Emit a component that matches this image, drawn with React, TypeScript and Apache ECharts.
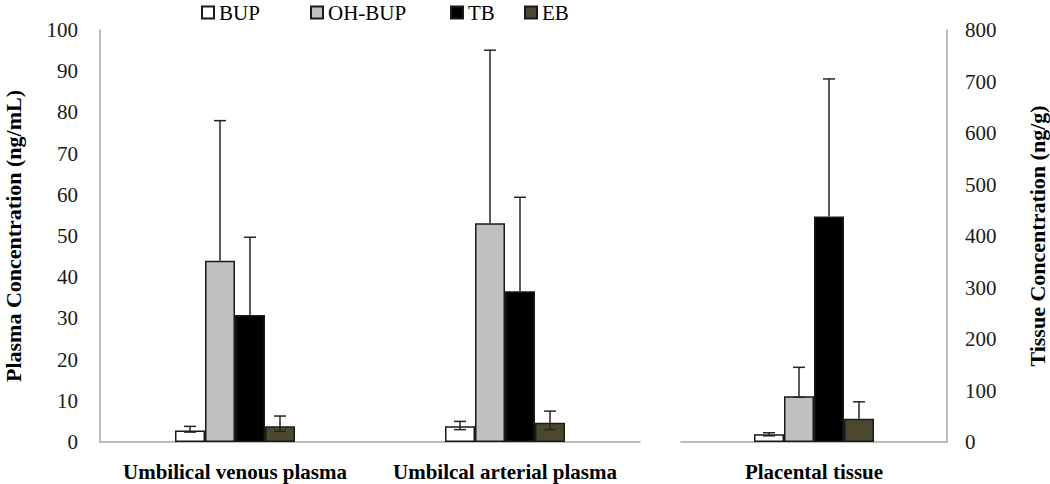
import React, { useEffect, useRef } from "react";
import * as echarts from "echarts";

// ---- data ----
const plasmaCategories = ["Umbilical venous plasma", "Umbilcal arterial plasma"];
const tissueCategories = ["Placental tissue"];
const seriesNames = ["BUP", "OH-BUP", "TB", "EB"];
const plasmaTicks = [0, 100, 10]; // min, max, interval
const tissueTicks = [0, 800, 100];

// means: [venous plasma, arterial plasma, placental tissue]
const bupMean = [2.8, 3.8, 15];
const ohbupMean = [44.0, 53.1, 89];
const tbMean = [30.8, 36.6, 438];
const ebMean = [3.8, 4.7, 45];

// upper error amounts
const bupErrUp = [1.0, 1.2, 3];
const ohbupErrUp = [34.0, 42.0, 56];
const tbErrUp = [18.9, 22.8, 267];
const ebErrUp = [2.5, 2.8, 33];

// lower error amounts (0 = not drawn)
const bupErrDown = [0.4, 0.8, 3];
const ohbupErrDown = [0, 0, 2];
const tbErrDown = [0, 0, 0];
const ebErrDown = [1.2, 1.7, 0];

const means = [bupMean, ohbupMean, tbMean, ebMean];
const errsUp = [bupErrUp, ohbupErrUp, tbErrUp, ebErrUp];
const errsDown = [bupErrDown, ohbupErrDown, tbErrDown, ebErrDown];

const FONT = "'Liberation Serif', 'Times New Roman', serif";
const fills = ["#ffffff", "#c0c0c0", "#000000", "#4c4830"];
const AXIS_COLOR = "#a6a6a6";
const BAR_W = 30;

export default function App() {
  const ref = useRef<HTMLDivElement>(null);
  useEffect(() => {
    if (!ref.current) return;
    const chart = echarts.init(ref.current, undefined, { renderer: "svg" });

    const barSeries: any[] = [];
    seriesNames.forEach((name, s) => {
      const itemStyle = { color: fills[s], borderColor: "#1a1a1a", borderWidth: 1.5 };
      barSeries.push({
        type: "bar",
        name,
        xAxisIndex: 0,
        yAxisIndex: 0,
        barWidth: BAR_W,
        barGap: "0%",
        itemStyle,
        data: means[s].slice(0, 2),
      });
      barSeries.push({
        type: "bar",
        name,
        xAxisIndex: 1,
        yAxisIndex: 1,
        barWidth: BAR_W,
        barGap: "0%",
        itemStyle,
        data: means[s].slice(2),
      });
    });

    const errData = (cats: number[]) => {
      const out: any[] = [];
      seriesNames.forEach((_, s) => {
        cats.forEach((i, ci) => {
          const m = means[s][i];
          out.push([ci, s, m + errsUp[s][i], m - errsDown[s][i], m]);
        });
      });
      return out;
    };

    const renderErr = (params: any, api: any) => {
      const cat = api.value(0);
      const s = api.value(1);
      const hi = api.value(2);
      const lo = api.value(3);
      const m = api.value(4);
      const cx = api.coord([cat, 0])[0] + (s - 1.5) * BAR_W;
      const yHi = api.coord([cat, hi])[1];
      const yLo = api.coord([cat, lo])[1];
      const yM = api.coord([cat, m])[1];
      const st = { stroke: "#262626", lineWidth: 1.5 };
      const half = 6;
      const children: any[] = [
        { type: "line", shape: { x1: cx, y1: yHi, x2: cx, y2: lo < m ? yLo : yM }, style: st },
        { type: "line", shape: { x1: cx - half, y1: yHi, x2: cx + half, y2: yHi }, style: st },
      ];
      if (lo < m) {
        children.push({ type: "line", shape: { x1: cx - half, y1: yLo, x2: cx + half, y2: yLo }, style: st });
      }
      return { type: "group", children };
    };

    const errSeries = [
      {
        type: "custom",
        xAxisIndex: 0,
        yAxisIndex: 0,
        z: 5,
        renderItem: renderErr,
        data: errData([0, 1]),
        silent: true,
      },
      {
        type: "custom",
        xAxisIndex: 1,
        yAxisIndex: 1,
        z: 5,
        renderItem: renderErr,
        data: errData([2]),
        silent: true,
      },
    ];

    const legendX = [201, 310, 450, 524];
    const legends = seriesNames.map((n, i) => ({
      data: [n],
      left: legendX[i],
      top: 2,
      itemWidth: 12,
      itemHeight: 12,
      itemGap: 0,
      padding: 0,
      icon: "rect",
      textStyle: { fontFamily: FONT, fontSize: 21, color: "#000" },
      selectedMode: false,
    }));

    const labelStyle = { fontFamily: FONT, fontSize: 21, color: "#1a1a1a" };
    const catLabel = {
      fontFamily: FONT,
      fontSize: 21,
      fontWeight: "bold",
      color: "#000",
      margin: 19,
      interval: 0,
    };
    const titleStyle = { fontFamily: FONT, fontSize: 22, fontWeight: "bold", color: "#000" };

    chart.setOption({
      animation: false,
      backgroundColor: "#ffffff",
      legend: legends,
      grid: [
        { left: 100, right: 410, top: 30, bottom: 42, outerBoundsMode: "none", containLabel: false },
        { left: 681, right: 103, top: 30, bottom: 42, outerBoundsMode: "none", containLabel: false },
      ],
      xAxis: [
        {
          type: "category",
          gridIndex: 0,
          data: plasmaCategories,
          axisLine: { lineStyle: { color: AXIS_COLOR, width: 1.5 } },
          axisTick: { show: false },
          axisLabel: catLabel,
        },
        {
          type: "category",
          gridIndex: 1,
          data: tissueCategories,
          axisLine: { lineStyle: { color: AXIS_COLOR, width: 1.5 } },
          axisTick: { show: false },
          axisLabel: catLabel,
        },
      ],
      yAxis: [
        {
          type: "value",
          gridIndex: 0,
          min: plasmaTicks[0],
          max: plasmaTicks[1],
          interval: plasmaTicks[2],
          name: "Plasma Concentration (ng/mL)",
          nameLocation: "middle",
          nameGap: 76,
          nameRotate: 90,
          nameTextStyle: titleStyle,
          axisLine: { show: true, lineStyle: { color: AXIS_COLOR, width: 1.5 } },
          axisTick: { show: false },
          splitLine: { show: false },
          axisLabel: { ...labelStyle, margin: 22 },
        },
        {
          type: "value",
          gridIndex: 1,
          position: "right",
          min: tissueTicks[0],
          max: tissueTicks[1],
          interval: tissueTicks[2],
          name: "Tissue Concentration (ng/g)",
          nameLocation: "middle",
          nameGap: 79,
          nameRotate: 90,
          nameTextStyle: titleStyle,
          axisLine: { show: true, lineStyle: { color: AXIS_COLOR, width: 1.5 } },
          axisTick: { show: false },
          splitLine: { show: false },
          axisLabel: { ...labelStyle, margin: 18 },
        },
      ],
      series: [...barSeries, ...errSeries],
    });

    return () => chart.dispose();
  }, []);

  return (
    <div
      ref={ref}
      style={{ position: "fixed", left: 0, top: 0, width: 1050, height: 484, background: "#fff" }}
    />
  );
}
